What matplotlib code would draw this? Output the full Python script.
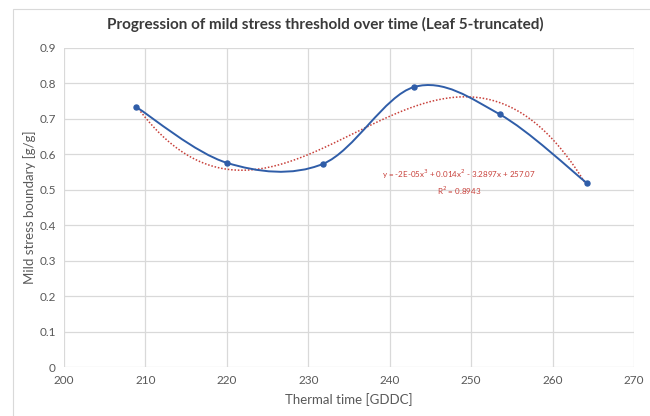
import numpy as np
import matplotlib
matplotlib.use('Agg')
import matplotlib.pyplot as plt
from matplotlib.path import Path
from matplotlib.patches import PathPatch, Rectangle

# data
thermal_time = [208.9, 220.0, 231.8, 243.0, 253.5, 264.2]
mild_stress = [0.733, 0.576, 0.573, 0.790, 0.713, 0.519]
x_ticks = [200, 210, 220, 230, 240, 250, 260, 270]
y_ticks = [0, 0.1, 0.2, 0.3, 0.4, 0.5, 0.6, 0.7, 0.8, 0.9]
y_tick_labels = ['0', '0.1', '0.2', '0.3', '0.4', '0.5', '0.6', '0.7', '0.8', '0.9']
trend_label = 'y = -2E-05x$^3$ + 0.014x$^2$ - 3.2897x + 257.07\nR$^2$ = 0.8943'

BLUE = '#2f5da8'
RED = '#c8403a'
GRID = '#d9d9d9'
TXT = '#595959'

plt.rcParams['font.family'] = ['Lato', 'DejaVu Sans']


def smooth_path(xs, ys):
    """Excel 风格平滑线: Catmull-Rom -> 三次 Bezier"""
    pts = np.column_stack([xs, ys])
    n = len(pts)
    verts = [pts[0]]
    codes = [Path.MOVETO]
    for i in range(n - 1):
        p0 = pts[max(i - 1, 0)]
        p1 = pts[i]
        p2 = pts[i + 1]
        p3 = pts[min(i + 2, n - 1)]
        c1 = p1 + (p2 - p0) / 6.0
        c2 = p2 - (p3 - p1) / 6.0
        verts += [c1, c2, p2]
        codes += [Path.CURVE4] * 3
    return Path(verts, codes)


fig = plt.figure(figsize=(6.5, 4.16), dpi=100)
ax = fig.add_axes([64 / 650, 1 - 367 / 416, 570 / 650, 319 / 416])

# chart area border
fig.patches.append(Rectangle((13 / 650, -0.1), 1.0, 1 - 9 / 416 + 0.1,
                             transform=fig.transFigure, fill=False,
                             edgecolor=GRID, linewidth=0.8))

ax.set_xlim(200, 270)
ax.set_ylim(0, 0.9)
ax.set_xticks(x_ticks)
ax.set_yticks(y_ticks)
ax.set_yticklabels(y_tick_labels)
ax.grid(True, color=GRID, linewidth=0.9)
ax.set_axisbelow(True)
for s in ax.spines.values():
    s.set_visible(False)
ax.tick_params(length=0, labelsize=8.5, labelcolor=TXT, pad=6)

# polynomial trendline (order 3)
coef = np.polyfit(thermal_time, mild_stress, 3)
xx = np.linspace(thermal_time[0], thermal_time[-1], 200)
ax.plot(xx, np.polyval(coef, xx), color=RED, linestyle=(0, (1, 1.2)),
        linewidth=1.1, zorder=3)

# smoothed series
ax.add_patch(PathPatch(smooth_path(thermal_time, mild_stress), facecolor='none',
                       edgecolor=BLUE, linewidth=1.4, zorder=4))
ax.plot(thermal_time, mild_stress, 'o', color=BLUE, markersize=3.6, zorder=5)

ax.text(248.5, 0.52, trend_label, color=RED, fontsize=5.8, ha='center',
        va='center', linespacing=1.35)

ax.set_xlabel('Thermal time [GDDC]', fontsize=9.5, color=TXT, labelpad=5)
ax.set_ylabel('Mild stress boundary [g/g]', fontsize=9.5, color=TXT, labelpad=2)
fig.text(0.5, 1 - 24 / 416, 'Progression of mild stress threshold over time (Leaf 5-truncated)',
         ha='center', va='center', fontsize=11, fontweight='bold', color='#3a3a3a')

fig.savefig('out.png', dpi=100)
